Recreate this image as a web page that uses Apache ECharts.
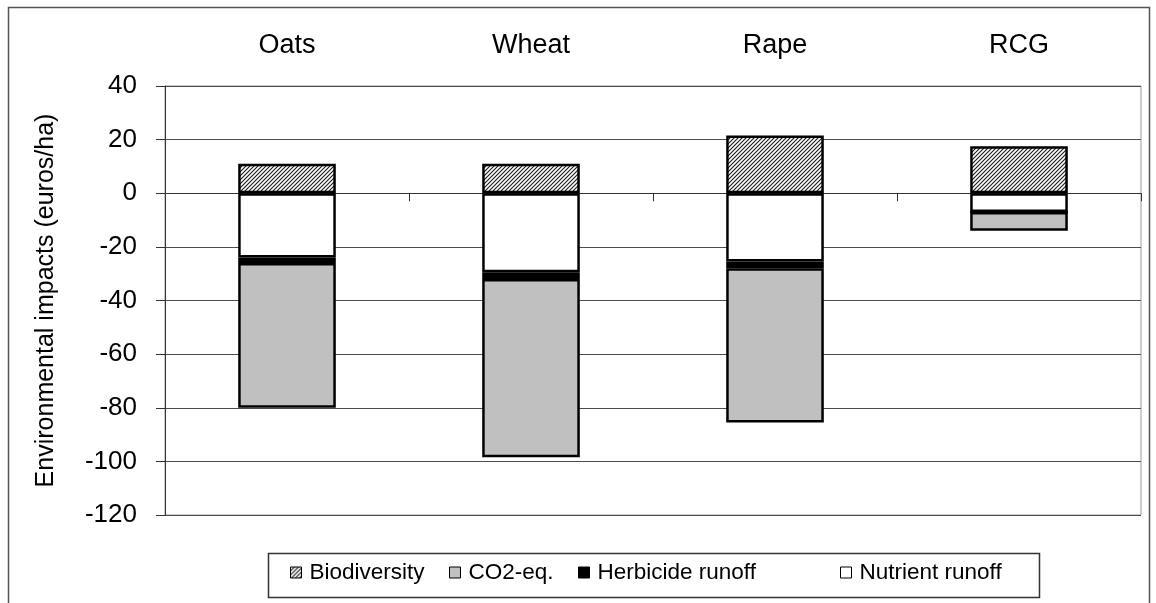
<!DOCTYPE html>
<html>
<head>
<meta charset="utf-8">
<script src="https://cdn.jsdelivr.net/npm/echarts@6/dist/echarts.min.js"></script>
<style>
  html, body { margin: 0; padding: 0; background: #fff; }
  #chart { width: 1156px; height: 603px; }
</style>
</head>
<body>
<div id="chart"></div>
<script>
// Crop categories and impact components (euros/ha)
const categories = ['Oats', 'Wheat', 'Rape', 'RCG'];
const nutrientRunoff = [-24, -29.5, -25.5, -7];
const herbicideRunoff = [-2, -2.5, -2.5, 0];
const co2Eq = [-54, -66.5, -57.5, -7];
const biodiversity = [11, 11, 21.5, 17.5];

// Value axis range
const yMin = -120;
const yMax = 40;
const yStep = 20;

// Legend entries in the order they are listed
const legendNames = ['Biodiversity', 'CO2-eq.', 'Herbicide runoff', 'Nutrient runoff'];
const legendLeft = [290, 449, 578, 840];

const FONT = 'Liberation Sans, Arial, sans-serif';

// Diagonal hatch fill for the biodiversity component
function hatchPattern() {
  const c = document.createElement('canvas');
  c.width = 4; c.height = 4;
  const g = c.getContext('2d');
  g.fillStyle = '#fff';
  g.fillRect(0, 0, 4, 4);
  g.strokeStyle = '#1a1a1a';
  g.lineWidth = 1.1;
  g.beginPath();
  g.moveTo(-1, 5); g.lineTo(5, -1);
  g.moveTo(-1, 1); g.lineTo(1, -1);
  g.moveTo(3, 5); g.lineTo(5, 3);
  g.stroke();
  return { image: c, repeat: 'repeat' };
}

const barBase = {
  type: 'bar',
  stack: 'impact',
  barWidth: '40%',
  xAxisIndex: 0,
  yAxisIndex: 0
};
const border = { borderColor: '#000', borderWidth: 2.5 };

const chart = echarts.init(document.getElementById('chart'), null, { renderer: 'canvas' });

chart.setOption({
  animation: false,
  backgroundColor: '#fff',
  graphic: [
    {
      type: 'rect', z: 0, silent: true,
      shape: { x: 8.5, y: 7.5, width: 1141, height: 600 },
      style: { fill: 'none', stroke: '#555', lineWidth: 1.5 }
    },
    {
      type: 'rect', z: 1, silent: true,
      shape: { x: 268.5, y: 553.5, width: 771, height: 44 },
      style: { fill: '#fff', stroke: '#333', lineWidth: 1.5 }
    }
  ],
  grid: {
    left: 165, right: 15, top: 86, bottom: 88,
    show: true, borderColor: '#9a9a9a', borderWidth: 1, backgroundColor: 'transparent'
  },
  legend: legendNames.map((name, i) => ({
    data: [name],
    left: legendLeft[i],
    top: 561,
    padding: 0,
    z: 5,
    itemWidth: 11,
    itemHeight: 11,
    selectedMode: false,
    icon: 'rect',
    itemStyle: { borderColor: '#000', borderWidth: 1 },
    textStyle: { fontFamily: FONT, fontSize: 22.5, color: '#000', padding: [0, 0, 0, 3] }
  })),
  xAxis: [
    {
      type: 'category',
      data: categories,
      position: 'bottom',
      axisLine: { onZero: true, lineStyle: { color: '#333', width: 1 } },
      axisTick: { show: true, interval: 0, length: 8, lineStyle: { color: '#333' } },
      axisLabel: { show: false },
      splitLine: { show: false }
    },
    {
      type: 'category',
      data: categories,
      position: 'top',
      axisLine: { show: false },
      axisTick: { show: false },
      axisLabel: { fontFamily: FONT, fontSize: 27, color: '#000', margin: 27 },
      splitLine: { show: false }
    }
  ],
  yAxis: {
    type: 'value',
    min: yMin, max: yMax, interval: yStep,
    name: 'Environmental impacts (euros/ha)',
    nameLocation: 'middle',
    nameRotate: 90,
    nameGap: 106,
    nameTextStyle: { fontFamily: FONT, fontSize: 25, color: '#000' },
    axisLine: { show: true, onZero: false, lineStyle: { color: '#333', width: 1 } },
    axisTick: { show: true, length: 9, lineStyle: { color: '#333' } },
    axisLabel: { fontFamily: FONT, fontSize: 26, color: '#000', margin: 28 },
    splitLine: { show: true, lineStyle: { color: '#4d4d4d', width: 1 } }
  },
  series: [
    Object.assign({}, barBase, {
      name: 'Nutrient runoff', data: nutrientRunoff,
      itemStyle: Object.assign({ color: '#fff' }, border)
    }),
    Object.assign({}, barBase, {
      name: 'Herbicide runoff', data: herbicideRunoff,
      itemStyle: Object.assign({ color: '#000' }, border)
    }),
    Object.assign({}, barBase, {
      name: 'CO2-eq.', data: co2Eq,
      itemStyle: Object.assign({ color: '#c0c0c0' }, border)
    }),
    Object.assign({}, barBase, {
      name: 'Biodiversity', data: biodiversity,
      itemStyle: Object.assign({ color: hatchPattern() }, border)
    })
  ]
});
</script>
</body>
</html>
